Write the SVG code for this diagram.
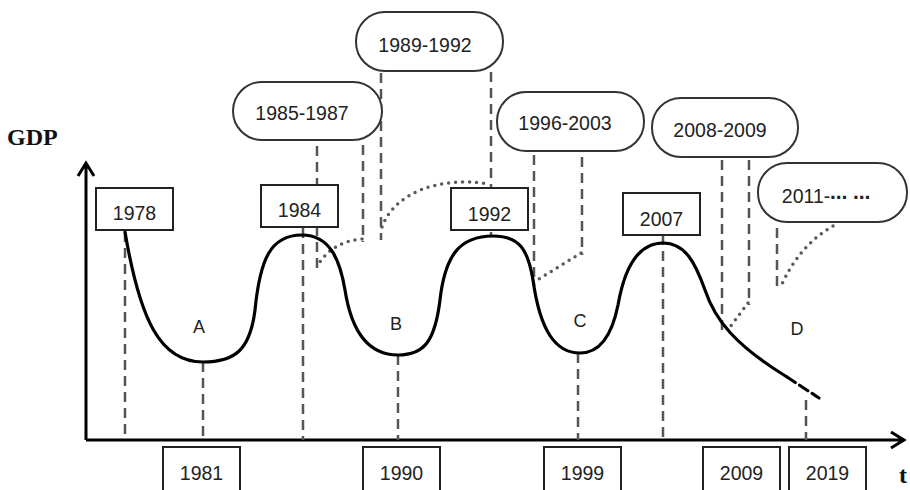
<svg xmlns="http://www.w3.org/2000/svg" width="910" height="490" viewBox="0 0 910 490">
<style>
.box{fill:#fff;stroke:#222;stroke-width:2}
.bub{fill:#fff;stroke:#333;stroke-width:2}
.lbl{font-family:"Liberation Sans",Arial,sans-serif;font-size:19.5px;fill:#222;text-anchor:middle}
.let{font-family:"Liberation Sans",Arial,sans-serif;font-size:18px;fill:#222;text-anchor:middle}
.ttl{font-family:"Liberation Serif","Times New Roman",serif;font-size:24px;font-weight:bold;fill:#111}
.dash{fill:none;stroke:#555;stroke-width:2.5;stroke-dasharray:10,6}
.dot{fill:none;stroke:#5a5a5a;stroke-width:3.5;stroke-linecap:round;stroke-dasharray:0,7}
.curve{fill:none;stroke:#000;stroke-width:3.2;stroke-linecap:round}
.axis{fill:none;stroke:#000;stroke-width:3}
</style>
<rect width="910" height="490" fill="#fff"/>
<g id="axes">
<path class="axis" d="M86,440 V164 M78,176 L86,163 L94,176"/>
<path class="axis" d="M86,440 H903 M891,432 L904,440 L891,448"/>
<text class="ttl" x="7" y="145">GDP</text>
<text class="ttl" x="899" y="483">t</text>
</g>
<g id="connectors">
<path class="dash" d="M125,232 V440 M203,362 V440 M303,228 V440 M398,355 V440 M578,353 V440 M663,235 V440 M806,400 V440"/>
<path class="dash" d="M317,146 V272 M363,145 V242 M381,73 V240 M491,72 V236 M534,155 V286 M582,157 V255 M722,160 V332 M749,160 V305 M777,228 V286"/>
<path class="dot" d="M362,239 Q335,241 320,262"/>
<path class="dot" d="M382,227 C395,192 440,176 489,184"/>
<path class="dot" d="M581,253 L539,279"/>
<path class="dot" d="M748,303 L727,331"/>
<path class="dot" d="M833,226 Q800,245 782,284"/>
</g>
<g id="curve">
<path class="curve" d="M125,232 C140,320 160,362 203,362 C235,362 250,350 255,310 C260,260 270,235 302,235 C330,235 340,260 345,290 C352,335 370,355 398,355 C425,355 435,340 440,300 C445,255 460,236 493,236 C520,236 528,250 533,280 C540,330 555,353 580,353 C600,353 612,335 618,305 C625,265 640,243 663,243 C685,243 695,262 705,290 C715,320 735,345 787,377"/>
<path class="curve" d="M787,377 L819,398" stroke-dasharray="10,5" stroke-linecap="butt"/>
</g>
<g id="n1978"><rect class="box" x="96" y="188" width="77" height="42"/><text class="lbl" x="134.5" y="220">1978</text></g>
<g id="n1984"><rect class="box" x="261" y="185" width="77" height="42"/><text class="lbl" x="299.5" y="217">1984</text></g>
<g id="n1992"><rect class="box" x="451" y="188" width="77" height="42"/><text class="lbl" x="489.5" y="221">1992</text></g>
<g id="n2007"><rect class="box" x="623" y="193" width="77" height="42"/><text class="lbl" x="661.5" y="226">2007</text></g>
<g id="n1981"><rect class="box" x="163" y="447" width="77" height="50"/><text class="lbl" x="201.5" y="480">1981</text></g>
<g id="n1990"><rect class="box" x="363" y="447" width="77" height="50"/><text class="lbl" x="401.5" y="480">1990</text></g>
<g id="n1999"><rect class="box" x="544" y="447" width="77" height="50"/><text class="lbl" x="582.5" y="480">1999</text></g>
<g id="n2009"><rect class="box" x="703" y="447" width="77" height="50"/><text class="lbl" x="741.5" y="480">2009</text></g>
<g id="n2019"><rect class="box" x="789" y="447" width="77" height="50"/><text class="lbl" x="827.5" y="480">2019</text></g>
<g id="b1985"><rect class="bub" x="233" y="82" width="149" height="58" rx="29"/><text class="lbl" x="302" y="120">1985-1987</text></g>
<g id="b1989"><rect class="bub" x="356" y="12" width="147" height="59" rx="29"/><text class="lbl" x="425" y="52">1989-1992</text></g>
<g id="b1996"><rect class="bub" x="497" y="92" width="147" height="59" rx="29"/><text class="lbl" x="565" y="130">1996-2003</text></g>
<g id="b2008"><rect class="bub" x="652" y="98" width="146" height="59" rx="29"/><text class="lbl" x="720" y="137">2008-2009</text></g>
<g id="b2011"><rect class="bub" x="758" y="163" width="149" height="59" rx="29"/><text class="lbl" x="826" y="203">2011-<tspan font-family="'DejaVu Sans',sans-serif" font-size="17" font-weight="bold">⋯ ⋯</tspan></text></g>
<g id="letters">
<text class="let" x="199" y="333">A</text>
<text class="let" x="396" y="330">B</text>
<text class="let" x="580" y="327">C</text>
<text class="let" x="797" y="335">D</text>
</g>
</svg>
